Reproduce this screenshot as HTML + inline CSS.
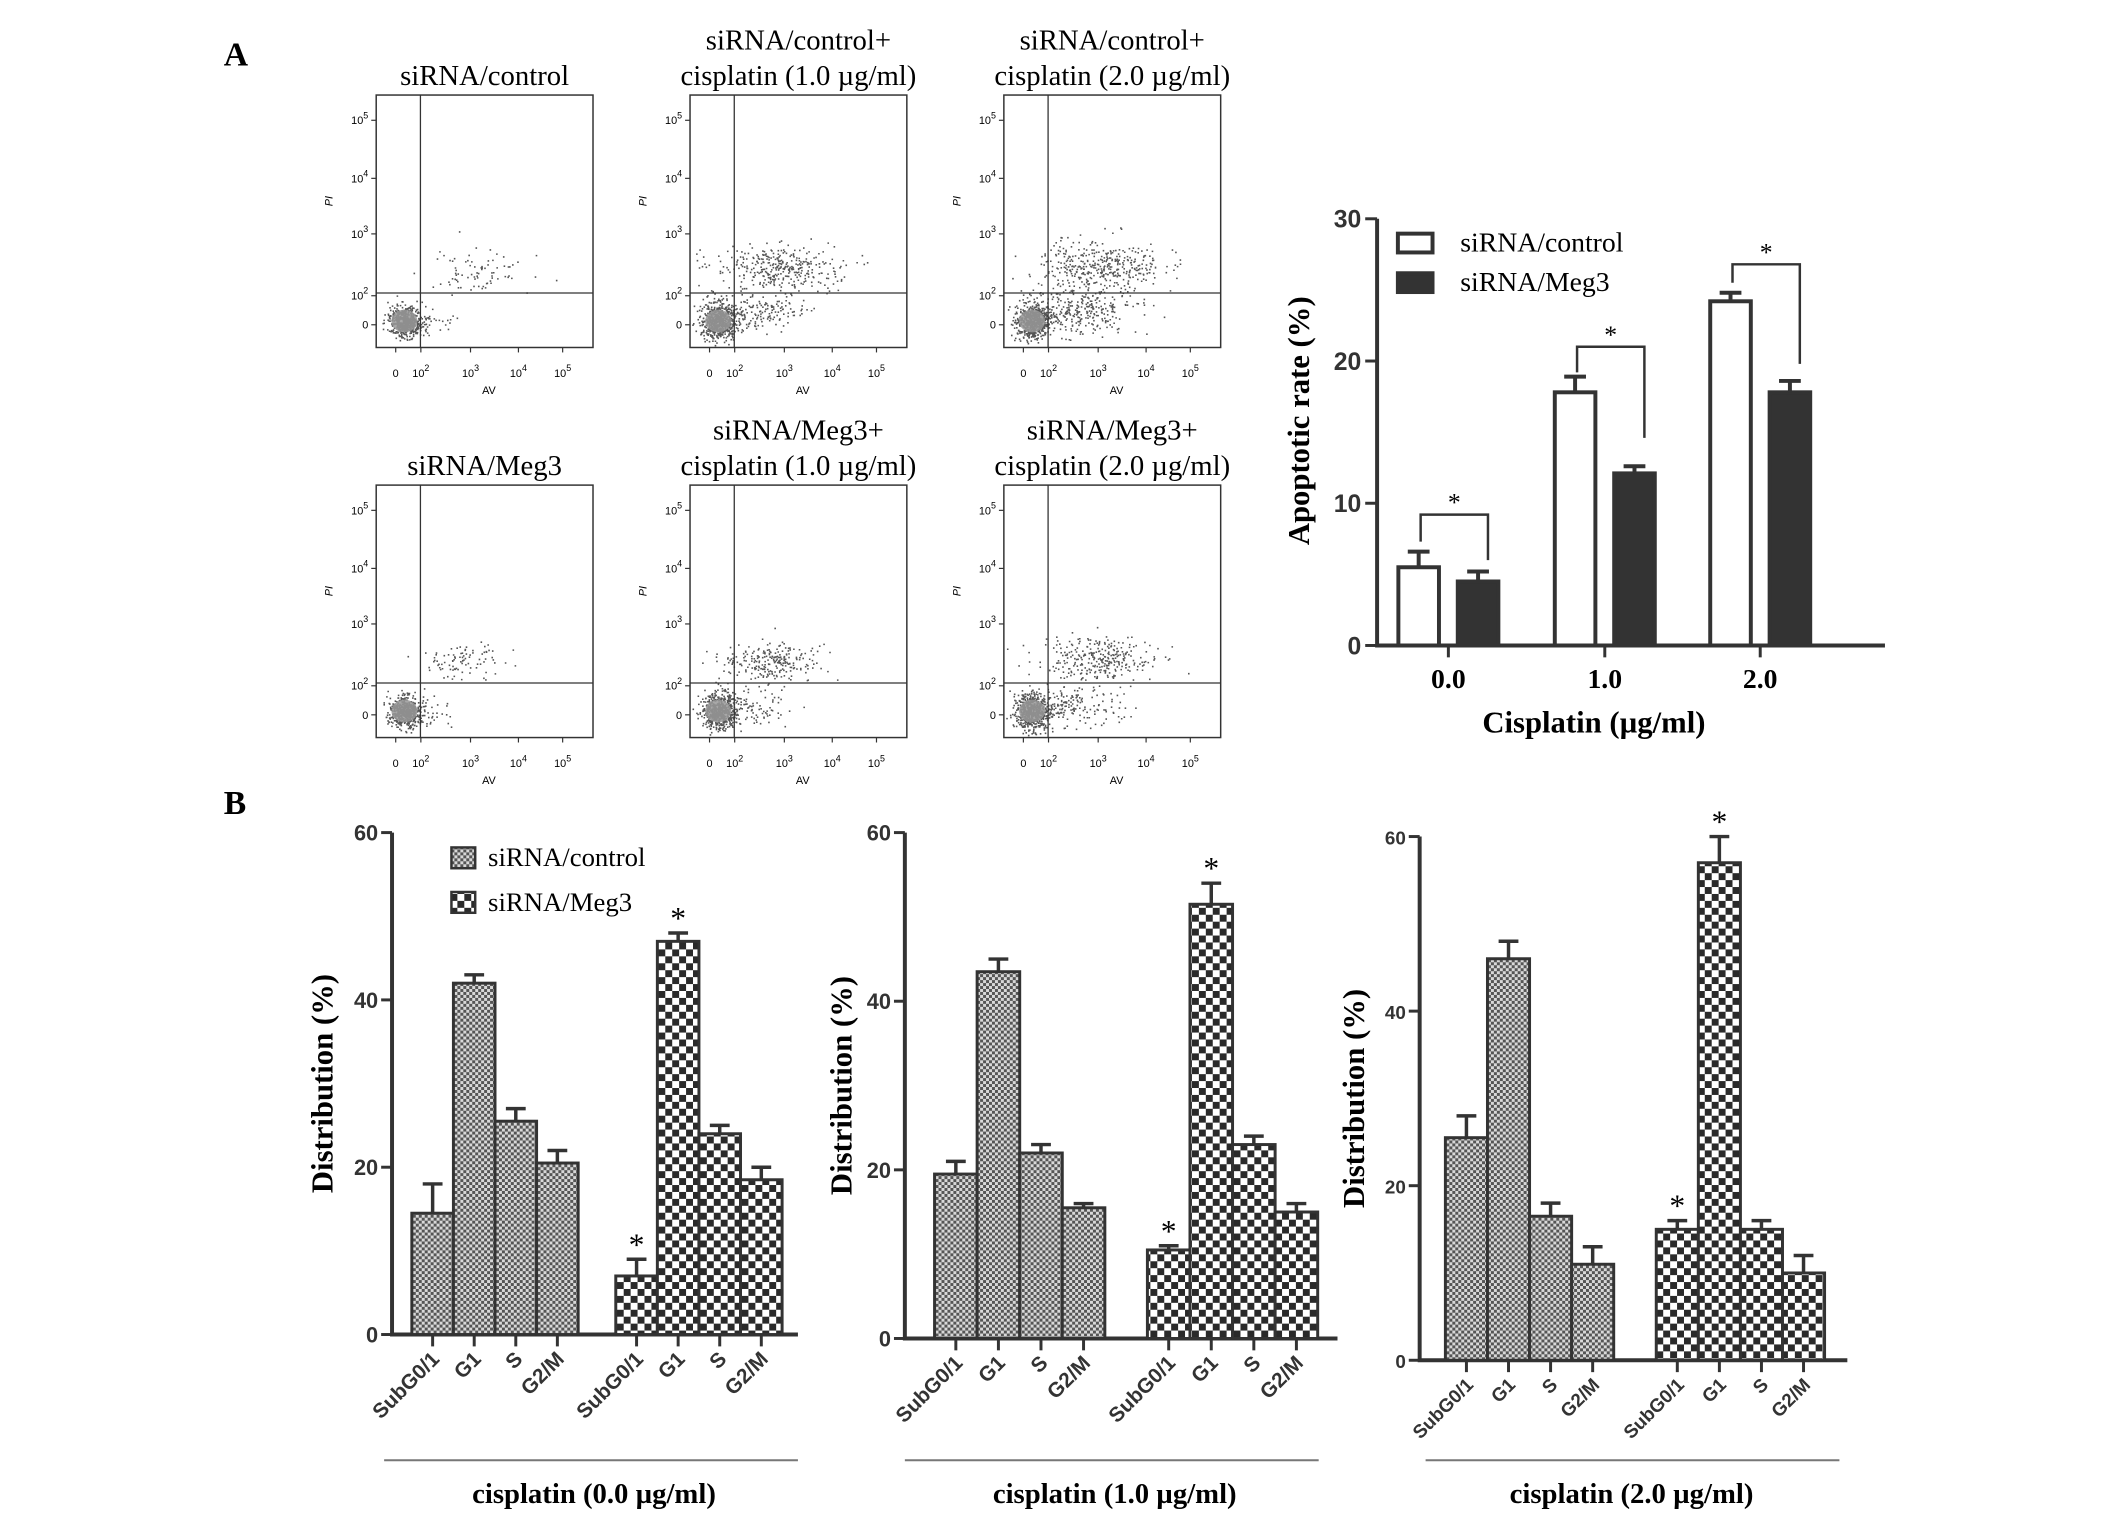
<!DOCTYPE html>
<html><head><meta charset="utf-8">
<style>
html,body{margin:0;padding:0;background:#fff;}
svg{display:block;}
.serif{font-family:"Liberation Serif",serif;}
.sans{font-family:"Liberation Sans",sans-serif;}
</style></head>
<body>
<svg id="fig" width="2126" height="1521" viewBox="0 0 2126 1521" xmlns="http://www.w3.org/2000/svg">
<defs>
<pattern id="patCtrl" width="6" height="6" patternUnits="userSpaceOnUse">
<rect width="6" height="6" fill="#d8d8d8"/><rect width="3" height="3" fill="#555"/><rect x="3" y="3" width="3" height="3" fill="#555"/>
</pattern>
<pattern id="patMeg" width="14" height="14" patternUnits="userSpaceOnUse">
<rect width="14" height="14" fill="#fff"/><rect width="7" height="7" fill="#2a2a2a"/><rect x="7" y="7" width="7" height="7" fill="#2a2a2a"/>
</pattern>
</defs>
<g transform="scale(0.99)">
<text x="226" y="66" class="serif" font-size="34" font-weight="bold">A</text>
<text x="226" y="822" class="serif" font-size="34" font-weight="bold">B</text>
<g id="flow"></g>
<g id="apop"></g>
<g id="dist"></g>
</g>
</svg>
<script>
// ---------- Apoptotic rate chart data ----------
const apopCategories = ["0.0", "1.0", "2.0"];
const apopControl = [5.5, 17.8, 24.2];
const apopControlErr = [1.1, 1.1, 0.6];
const apopMeg3 = [4.5, 12.1, 17.8];
const apopMeg3Err = [0.7, 0.5, 0.8];
const apopTicks = [0, 10, 20, 30];
const apopBrackets = [[9.2, 7.3, 6.0], [21.0, 19.2, 14.6], [26.8, 25.5, 19.8]];

// ---------- Distribution charts data ----------
const phases = ["SubG0/1", "G1", "S", "G2/M"];
const distTitles = ["cisplatin (0.0 µg/ml)", "cisplatin (1.0 µg/ml)", "cisplatin (2.0 µg/ml)"];
const distControl = [[14.5, 42, 25.5, 20.5], [19.5, 43.5, 22, 15.5], [25.5, 46, 16.5, 11]];
const distControlErr = [[3.5, 1, 1.5, 1.5], [1.5, 1.5, 1, 0.5], [2.5, 2, 1.5, 2]];
const distMeg3 = [[7, 47, 24, 18.5], [10.5, 51.5, 23, 15], [15, 57, 15, 10]];
const distMeg3Err = [[2, 1, 1, 1.5], [0.5, 2.5, 1, 1], [1, 3, 1, 2]];
const distTicks = [0, 20, 40, 60];

const NS = "http://www.w3.org/2000/svg";
function mk(tag, attrs, parent, txt) {
  const e = document.createElementNS(NS, tag);
  for (const k in attrs) e.setAttribute(k, attrs[k]);
  if (txt !== undefined) e.textContent = txt;
  parent.appendChild(e);
  return e;
}

// ---------- Apoptotic chart ----------
(function () {
  const g = document.getElementById('apop');
  const X0 = 1391, X1 = 1904, Y0 = 652, Y30 = 221;
  const centers = [1463, 1621, 1778];
  const y = v => Y0 - (v / 30) * (Y0 - Y30);
  const xc = i => centers[i];
  const bw = 41, off = 30;
  const ax = mk('path', { d: `M${X0} ${Y30}V${Y0}H${X1}`, stroke: '#333', 'stroke-width': 4, fill: 'none' }, g);
  
  
  apopTicks.forEach(t => {
    const l = mk('line', { x1: X0 - 12, x2: X0, y1: y(t), y2: y(t), stroke: '#333', 'stroke-width': 3 }, g);
    
    
    const tx = mk('text', { x: X0 - 16, y: y(t) + 9, 'text-anchor': 'end', class: 'sans', 'font-size': 25, 'font-weight': 'bold', fill: '#333' }, g, String(t));
    
    
  });
  apopCategories.forEach((c, i) => {
    const l = mk('line', { x1: xc(i), x2: xc(i), y1: Y0, y2: Y0 + 12, stroke: '#333', 'stroke-width': 3 }, g);
    
    
    const tx = mk('text', { x: xc(i), y: 695, 'text-anchor': 'middle', class: 'serif', 'font-size': 28, 'font-weight': 'bold' }, g, c);
    
    
    [[apopControl, apopControlErr, -off, '#fff', 'control'], [apopMeg3, apopMeg3Err, off, '#333', 'meg3']].forEach(s => {
      const v = s[0][i], e = s[1][i], cx = xc(i) + s[2];
      const r = mk('rect', { x: cx - bw / 2, y: y(v), width: bw, height: Y0 - y(v), fill: s[3], stroke: '#333', 'stroke-width': 4 }, g);
      
      
      const eb = mk('path', { d: `M${cx} ${y(v)}V${y(v + e)}M${cx - 11} ${y(v + e)}H${cx + 11}`, stroke: '#333', 'stroke-width': 4, fill: 'none' }, g);
      
      
    });
    const b = apopBrackets[i];
    const bl = xc(i) - off + 2, br = xc(i) + off + 10;
    const bp = mk('path', { d: `M${bl} ${y(b[1])}V${y(b[0])}H${br}V${y(b[2])}`, stroke: '#333', 'stroke-width': 2.5, fill: 'none' }, g);
    
    
    const st = mk('text', { x: (bl + br) / 2, y: y(b[0]) - 4, 'text-anchor': 'middle', class: 'serif', 'font-size': 26 }, g, '*');
    
    
  });
  const yl = mk('text', { x: 0, y: 0, transform: 'translate(1322,425) rotate(-90)', 'text-anchor': 'middle', class: 'serif', 'font-size': 31, 'font-weight': 'bold' }, g, 'Apoptotic rate (%)');
  
  
  const xl = mk('text', { x: 1610, y: 740, 'text-anchor': 'middle', class: 'serif', 'font-size': 31, 'font-weight': 'bold' }, g, 'Cisplatin (µg/ml)');
  
  
  [['#fff', 'siRNA/control', 236], ['#333', 'siRNA/Meg3', 276]].forEach(L => {
    const r = mk('rect', { x: 1412, y: L[2], width: 35, height: 19, fill: L[0], stroke: '#333', 'stroke-width': 4 }, g);
    
    
    const t = mk('text', { x: 1475, y: L[2] + 18, class: 'serif', 'font-size': 28 }, g, L[1]);
    
    
  });
})();

// ---------- Distribution charts ----------
(function () {
  const g = document.getElementById('dist');
  const panels = [
    { ax: 396, y0: 1348, y60: 841, g1: 416, g2: 622, end: 806, bw: 42, line: [388, 806], tx: 600, yl: 336, legend: true },
    { ax: 914, y0: 1352, y60: 841, g1: 944, g2: 1159, end: 1351, bw: 43, line: [914, 1332], tx: 1126, yl: 860 },
    { ax: 1434, y0: 1374, y60: 845, g1: 1460, g2: 1673, end: 1866, bw: 42.5, line: [1440, 1858], tx: 1648, yl: 1378 }
  ];
  panels.forEach((P, pi) => {
    const y = v => P.y0 - v / 60 * (P.y0 - P.y60);
    const a = mk('path', { d: `M${P.ax} ${P.y60}V${P.y0}H${P.end}`, stroke: '#333', 'stroke-width': 4, fill: 'none' }, g);
    
    
    distTicks.forEach(t => {
      const l = mk('line', { x1: P.ax - 11, x2: P.ax, y1: y(t), y2: y(t), stroke: '#333', 'stroke-width': 3 }, g);
      
      
      const tx = mk('text', { x: P.ax - 14, y: y(t) + 8, 'text-anchor': 'end', class: 'sans', 'font-size': pi == 2 ? 19 : 22, 'font-weight': 'bold', fill: '#333' }, g, String(t));
      
      
    });
    [[distControl, distControlErr, P.g1, 'url(#patCtrl)', 'control'], [distMeg3, distMeg3Err, P.g2, 'url(#patMeg)', 'meg3']].forEach(S => {
      phases.forEach((ph, i) => {
        const v = S[0][pi][i], e = S[1][pi][i];
        const x = S[2] + i * P.bw, cx = x + P.bw / 2;
        const r = mk('rect', { x: x, y: y(v), width: P.bw, height: P.y0 - y(v), fill: S[3], stroke: '#333', 'stroke-width': 3 }, g);
        
        
        const eb = mk('path', { d: `M${cx} ${y(v)}V${y(v + e)}M${cx - 10} ${y(v + e)}H${cx + 10}`, stroke: '#333', 'stroke-width': 3.5, fill: 'none' }, g);
        
        
        const tk = mk('line', { x1: cx, x2: cx, y1: P.y0, y2: P.y0 + 12, stroke: '#333', 'stroke-width': 3 }, g);
        
        
        const tl = mk('text', { x: 0, y: 0, transform: `translate(${cx + 8},${P.y0 + 26}) rotate(-45)`, 'text-anchor': 'end', class: 'sans', 'font-size': pi == 2 ? 19 : 21, 'font-weight': 'bold', fill: '#333' }, g, ph);
        
        
        if (S[4] === 'meg3' && i < 2) {
          const st = mk('text', { x: cx, y: y(v + e) - 4, 'text-anchor': 'middle', class: 'serif', 'font-size': 32 }, g, '*');
          
          
        }
      });
    });
    const hl = mk('line', { x1: P.line[0], x2: P.line[1], y1: 1475, y2: 1475, stroke: '#777', 'stroke-width': 2 }, g);
    
    
    const tt = mk('text', { x: P.tx, y: 1518, 'text-anchor': 'middle', class: 'serif', 'font-size': 29, 'font-weight': 'bold' }, g, distTitles[pi]);
    
    
    const yl = mk('text', { x: 0, y: 0, transform: `translate(${P.yl},${(P.y0 + P.y60) / 2}) rotate(-90)`, 'text-anchor': 'middle', class: 'serif', 'font-size': 31, 'font-weight': 'bold' }, g, 'Distribution (%)');
    
    
    if (P.legend) {
      [['url(#patCtrl)', 'siRNA/control', 856], ['url(#patMeg)', 'siRNA/Meg3', 901]].forEach(L => {
        const r = mk('rect', { x: 456, y: L[2], width: 24, height: 21, fill: L[0], stroke: '#333', 'stroke-width': 2.5 }, g);
        
        
        const t = mk('text', { x: 493, y: L[2] + 19, class: 'serif', 'font-size': 27 }, g, L[1]);
        
        
      });
    }
  });
})();

// ---------- Flow cytometry dot plots (decorative texture) ----------
(function () {
  const g = document.getElementById('flow');
  const cols = [380, 697, 1014], rows = [96, 490], W = 219, H = 255;
  const titles = [
    [["siRNA/control"], ["siRNA/control+", "cisplatin (1.0 µg/ml)"], ["siRNA/control+", "cisplatin (2.0 µg/ml)"]],
    [["siRNA/Meg3"], ["siRNA/Meg3+", "cisplatin (1.0 µg/ml)"], ["siRNA/Meg3+", "cisplatin (2.0 µg/ml)"]]
  ];
  const clusterSets = [
    [[[0.13, 0.895, 0.035, 0.03, 500], [0.45, 0.7, 0.12, 0.04, 80], [0.2, 0.9, 0.08, 0.03, 80]],
     [[0.13, 0.895, 0.04, 0.035, 600], [0.4, 0.68, 0.14, 0.045, 350], [0.3, 0.86, 0.12, 0.04, 200]],
     [[0.13, 0.895, 0.04, 0.035, 600], [0.45, 0.68, 0.14, 0.05, 400], [0.35, 0.85, 0.13, 0.045, 300]]],
    [[[0.13, 0.895, 0.035, 0.03, 500], [0.4, 0.7, 0.1, 0.035, 90], [0.22, 0.9, 0.07, 0.03, 60]],
     [[0.13, 0.895, 0.04, 0.035, 550], [0.38, 0.7, 0.12, 0.04, 250], [0.25, 0.88, 0.1, 0.035, 120]],
     [[0.13, 0.895, 0.04, 0.035, 550], [0.42, 0.69, 0.13, 0.045, 300], [0.3, 0.87, 0.12, 0.04, 200]]]
  ];
  let seed = 12345;
  const rnd = () => (seed = (seed * 1103515245 + 12345) % 2147483648) / 2147483648;
  const gauss = () => { let u = rnd() || 1e-6, v = rnd(); return Math.sqrt(-2 * Math.log(u)) * Math.cos(2 * Math.PI * v); };
  const yTickF = [[0.10, '10', '5'], [0.33, '10', '4'], [0.55, '10', '3'], [0.795, '10', '2'], [0.91, '0', '']];
  const xTickF = [[0.09, '0', ''], [0.206, '10', '2'], [0.435, '10', '3'], [0.656, '10', '4'], [0.86, '10', '5']];
  rows.forEach((ry, r) => cols.forEach((cx, c) => {
    const grp = mk('g', {}, g);
    
    
    const t = titles[r][c];
    t.forEach((line, li) => {
      const ty = t.length === 1 ? ry - 10 : ry - 46 + li * 36;
      const tx = mk('text', { x: cx + W / 2, y: ty, 'text-anchor': 'middle', class: 'serif', 'font-size': 29 }, grp, line);
      
      
    });
    let dots = '';
    clusterSets[r][c].forEach(cl => {
      for (let k = 0; k < cl[4]; k++) {
        const fx = cl[0] + gauss() * cl[2], fy = cl[1] + gauss() * cl[3];
        if (fx < 0.01 || fx > 0.99 || fy < 0.01 || fy > 0.99) continue;
        dots += `M${(cx + fx * W).toFixed(1)} ${(ry + fy * H).toFixed(1)}h1.6v1.6h-1.6z`;
      }
    });
    const dp = mk('path', { d: dots, fill: '#555' }, grp);
    
    
    const blob = mk('ellipse', { cx: cx + 0.13 * W, cy: ry + 0.895 * H, rx: 0.06 * W, ry: 0.045 * H, fill: '#999', opacity: 0.85 }, grp);
    
    
    const box = mk('rect', { x: cx, y: ry, width: W, height: H, fill: 'none', stroke: '#333', 'stroke-width': 1.5 }, grp);
    
    
    const gate = mk('path', { d: `M${cx + 0.204 * W} ${ry}V${ry + H}M${cx} ${ry + 0.784 * H}H${cx + W}`, stroke: '#333', 'stroke-width': 1.3, fill: 'none' }, grp);
    
    
    yTickF.forEach(tk => {
      const yy = ry + tk[0] * H;
      const tx = mk('text', { x: cx - 8, y: yy + 4, 'text-anchor': 'end', class: 'sans', 'font-size': 11 }, grp);
      tx.textContent = tk[1];
      if (tk[2]) { mk('tspan', { dy: -6, 'font-size': 9 }, tx, tk[2]); }
      
      
      mk('line', { x1: cx - 5, x2: cx, y1: yy, y2: yy, stroke: '#333', 'stroke-width': 1.2 }, grp);
    });
    xTickF.forEach(tk => {
      const xx = cx + tk[0] * W;
      const tx = mk('text', { x: xx, y: ry + H + 30, 'text-anchor': 'middle', class: 'sans', 'font-size': 11 }, grp);
      tx.textContent = tk[1];
      if (tk[2]) { mk('tspan', { dy: -6, 'font-size': 9 }, tx, tk[2]); }
      
      
      mk('line', { x1: xx, x2: xx, y1: ry + H, y2: ry + H + 5, stroke: '#333', 'stroke-width': 1.2 }, grp);
    });
    const av = mk('text', { x: cx + 0.52 * W, y: ry + H + 47, 'text-anchor': 'middle', class: 'sans', 'font-size': 11 }, grp, 'AV');
    
    
    const pi = mk('text', { x: 0, y: 0, transform: `translate(${cx - 44},${ry + 0.42 * H}) rotate(-90)`, 'text-anchor': 'middle', class: 'sans', 'font-size': 11, 'font-style': 'italic' }, grp, 'PI');
    
    
  }));
})();
</script>
</body></html>
